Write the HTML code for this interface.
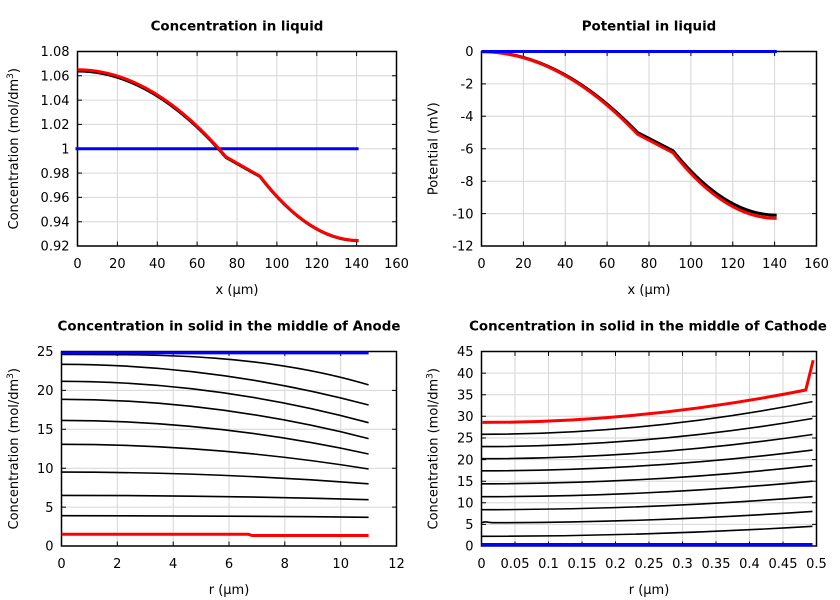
<!DOCTYPE html>
<html><head><meta charset="utf-8"><style>
html,body{margin:0;padding:0;background:#fff;}
svg{display:block;}
text{font-family:"DejaVu Sans","Liberation Sans",sans-serif;fill:#000;}
.t{font-size:13px;}
.ti{font-size:13.4px;font-weight:bold;}
</style></head><body>
<svg width="840" height="600" viewBox="0 0 840 600" xmlns="http://www.w3.org/2000/svg">
<rect width="840" height="600" fill="#fff"/>

<!-- ================= Plot 1 ================= -->
<g fill="none">
<path stroke="#d6d6d6" stroke-width="1" d="M117.4 51.5V246M157.3 51.5V246M197.1 51.5V246M237 51.5V246M276.9 51.5V246M316.8 51.5V246M356.6 51.5V246M77.5 75.8H396.5M77.5 100.1H396.5M77.5 124.4H396.5M77.5 148.75H396.5M77.5 173.1H396.5M77.5 197.4H396.5M77.5 221.7H396.5"/>
<path stroke="#000" stroke-width="1" d="M117.4 246v-4.5M157.3 246v-4.5M197.1 246v-4.5M237 246v-4.5M276.9 246v-4.5M316.8 246v-4.5M356.6 246v-4.5M117.4 51.5v4.5M157.3 51.5v4.5M197.1 51.5v4.5M237 51.5v4.5M276.9 51.5v4.5M316.8 51.5v4.5M356.6 51.5v4.5M77.5 75.8h4.5M77.5 100.1h4.5M77.5 124.4h4.5M77.5 148.75h4.5M77.5 173.1h4.5M77.5 197.4h4.5M77.5 221.7h4.5M396.5 75.8h-4.5M396.5 100.1h-4.5M396.5 124.4h-4.5M396.5 148.75h-4.5M396.5 173.1h-4.5M396.5 197.4h-4.5M396.5 221.7h-4.5"/>
<rect x="77.5" y="51.5" width="319" height="194.5" stroke="#000" stroke-width="1.5"/>
<path stroke="#0000ff" stroke-width="3" d="M75.5 148.75H358.6"/>
<path stroke="#000" stroke-width="3" d="M77.5 71 Q151.8 71 226 157.4 L259.9 176.5 Q309.3 240.7 358.6 240.7"/>
<path stroke="#ff0000" stroke-width="3" d="M77.5 69.7 Q151.8 69.7 226 156.8 L259.9 176.1 Q309.3 240.5 358.6 240.5"/>
</g>
<text class="ti" x="237" y="30.5" text-anchor="middle">Concentration in liquid</text>
<g class="t" text-anchor="end">
<text class="t" x="69.5" y="56.2">1.08</text>
<text class="t" x="69.5" y="80.5">1.06</text>
<text class="t" x="69.5" y="104.8">1.04</text>
<text class="t" x="69.5" y="129.1">1.02</text>
<text class="t" x="69.5" y="153.5">1</text>
<text class="t" x="69.5" y="177.8">0.98</text>
<text class="t" x="69.5" y="202.1">0.96</text>
<text class="t" x="69.5" y="226.4">0.94</text>
<text class="t" x="69.5" y="250.7">0.92</text>
</g>
<g text-anchor="middle">
<text class="t" x="77.5" y="268">0</text>
<text class="t" x="117.4" y="268">20</text>
<text class="t" x="157.3" y="268">40</text>
<text class="t" x="197.1" y="268">60</text>
<text class="t" x="237" y="268">80</text>
<text class="t" x="276.9" y="268">100</text>
<text class="t" x="316.8" y="268">120</text>
<text class="t" x="356.6" y="268">140</text>
<text class="t" x="396.5" y="268">160</text>
<text class="t" x="237" y="294">x (µm)</text>
</g>
<text class="t" transform="translate(18,148.75) rotate(-90)" text-anchor="middle">Concentration (mol/dm<tspan font-size="9" dy="-5">3</tspan><tspan dy="5">)</tspan></text>

<!-- ================= Plot 2 ================= -->
<g fill="none">
<path stroke="#d6d6d6" stroke-width="1" d="M523.4 51.5V246M565.25 51.5V246M607.1 51.5V246M649 51.5V246M690.9 51.5V246M732.75 51.5V246M774.6 51.5V246M481.5 83.9H816.5M481.5 116.3H816.5M481.5 148.75H816.5M481.5 181.2H816.5M481.5 213.6H816.5"/>
<path stroke="#000" stroke-width="1" d="M523.4 246v-4.5M565.25 246v-4.5M607.1 246v-4.5M649 246v-4.5M690.9 246v-4.5M732.75 246v-4.5M774.6 246v-4.5M523.4 51.5v4.5M565.25 51.5v4.5M607.1 51.5v4.5M649 51.5v4.5M690.9 51.5v4.5M732.75 51.5v4.5M774.6 51.5v4.5M481.5 83.9h4.5M481.5 116.3h4.5M481.5 148.75h4.5M481.5 181.2h4.5M481.5 213.6h4.5M816.5 83.9h-4.5M816.5 116.3h-4.5M816.5 148.75h-4.5M816.5 181.2h-4.5M816.5 213.6h-4.5"/>
<rect x="481.5" y="51.5" width="335" height="194.5" stroke="#000" stroke-width="1.5"/>
<path stroke="#000" stroke-width="3" d="M481.5 51.5 Q559.5 51.5 637.5 132.5 L673.1 150.8 Q724.9 215.2 776.7 215.2"/>
<path stroke="#ff0000" stroke-width="3" d="M481.5 51.8 Q559.5 51.8 637.5 134.2 L673.1 152.8 Q724.9 218.4 776.7 218.4"/>
<path stroke="#0000ff" stroke-width="3" d="M481.5 51.5H776.7"/>
</g>
<text class="ti" x="649" y="30.5" text-anchor="middle">Potential in liquid</text>
<g text-anchor="end">
<text class="t" x="473.5" y="56.2">0</text>
<text class="t" x="473.5" y="88.6">-2</text>
<text class="t" x="473.5" y="121">-4</text>
<text class="t" x="473.5" y="153.5">-6</text>
<text class="t" x="473.5" y="185.9">-8</text>
<text class="t" x="473.5" y="218.3">-10</text>
<text class="t" x="473.5" y="250.7">-12</text>
</g>
<g text-anchor="middle">
<text class="t" x="481.5" y="268">0</text>
<text class="t" x="523.4" y="268">20</text>
<text class="t" x="565.25" y="268">40</text>
<text class="t" x="607.1" y="268">60</text>
<text class="t" x="649" y="268">80</text>
<text class="t" x="690.9" y="268">100</text>
<text class="t" x="732.75" y="268">120</text>
<text class="t" x="774.6" y="268">140</text>
<text class="t" x="816.5" y="268">160</text>
<text class="t" x="649" y="294">x (µm)</text>
</g>
<text class="t" transform="translate(437.5,148.75) rotate(-90)" text-anchor="middle">Potential (mV)</text>

<!-- ================= Plot 3 ================= -->
<g fill="none">
<path stroke="#d6d6d6" stroke-width="1" d="M117.3 351.5V546M173.2 351.5V546M229 351.5V546M284.8 351.5V546M340.7 351.5V546M61.5 507.1H396.5M61.5 468.2H396.5M61.5 429.3H396.5M61.5 390.4H396.5"/>
<path stroke="#000" stroke-width="1" d="M117.3 546v-4.5M173.2 546v-4.5M229 546v-4.5M284.8 546v-4.5M340.7 546v-4.5M117.3 351.5v4.5M173.2 351.5v4.5M229 351.5v4.5M284.8 351.5v4.5M340.7 351.5v4.5M61.5 507.1h4.5M61.5 468.2h4.5M61.5 429.3h4.5M61.5 390.4h4.5M396.5 507.1h-4.5M396.5 468.2h-4.5M396.5 429.3h-4.5M396.5 390.4h-4.5"/>
<rect x="61.5" y="351.5" width="335" height="194.5" stroke="#000" stroke-width="1.5"/>
<g stroke="#000" stroke-width="1.6">
<path d="M61.5 354.4 C163.9 354.4 266.2 354.4 368.6 384.9"/>
<path d="M61.5 364.3 Q215 364.3 368.6 405"/>
<path d="M61.5 381.3 Q215 381.3 368.6 422.7"/>
<path d="M61.5 399.3 Q215 399.3 368.6 438.6"/>
<path d="M61.5 420.4 Q215 420.4 368.6 454"/>
<path d="M61.5 444.3 Q215 444.3 368.6 469"/>
<path d="M61.5 472.1 Q215 472.1 368.6 483.8"/>
<path d="M61.5 495.4 Q215 495.4 368.6 499.7"/>
<path d="M61.5 515.7 Q215 515.7 368.6 517.3"/>
</g>
<path stroke="#ff0000" stroke-width="3" d="M61.5 534.3 L248.5 534.3 L252 535.5 L368.6 535.5"/>
<path stroke="#0000ff" stroke-width="3" d="M61.5 352.9H368.6"/>
</g>
<text class="ti" x="229" y="330.5" text-anchor="middle">Concentration in solid in the middle of Anode</text>
<g text-anchor="end">
<text class="t" x="53.5" y="356.2">25</text>
<text class="t" x="53.5" y="395.1">20</text>
<text class="t" x="53.5" y="434">15</text>
<text class="t" x="53.5" y="472.9">10</text>
<text class="t" x="53.5" y="511.8">5</text>
<text class="t" x="53.5" y="550.7">0</text>
</g>
<g text-anchor="middle">
<text class="t" x="61.5" y="568">0</text>
<text class="t" x="117.3" y="568">2</text>
<text class="t" x="173.2" y="568">4</text>
<text class="t" x="229" y="568">6</text>
<text class="t" x="284.8" y="568">8</text>
<text class="t" x="340.7" y="568">10</text>
<text class="t" x="396.5" y="568">12</text>
<text class="t" x="229" y="594">r (µm)</text>
</g>
<text class="t" transform="translate(18,448.75) rotate(-90)" text-anchor="middle">Concentration (mol/dm<tspan font-size="9" dy="-5">3</tspan><tspan dy="5">)</tspan></text>

<!-- ================= Plot 4 ================= -->
<g fill="none">
<path stroke="#d6d6d6" stroke-width="1" d="M515 351.5V546M548.5 351.5V546M582 351.5V546M615.5 351.5V546M649 351.5V546M682.5 351.5V546M716 351.5V546M749.5 351.5V546M783 351.5V546M481.5 524.4H816.5M481.5 502.8H816.5M481.5 481.2H816.5M481.5 459.6H816.5M481.5 438H816.5M481.5 416.3H816.5M481.5 394.7H816.5M481.5 373.1H816.5"/>
<path stroke="#000" stroke-width="1" d="M515 546v-4.5M548.5 546v-4.5M582 546v-4.5M615.5 546v-4.5M649 546v-4.5M682.5 546v-4.5M716 546v-4.5M749.5 546v-4.5M783 546v-4.5M515 351.5v4.5M548.5 351.5v4.5M582 351.5v4.5M615.5 351.5v4.5M649 351.5v4.5M682.5 351.5v4.5M716 351.5v4.5M749.5 351.5v4.5M783 351.5v4.5M481.5 524.4h4.5M481.5 502.8h4.5M481.5 481.2h4.5M481.5 459.6h4.5M481.5 438h4.5M481.5 416.3h4.5M481.5 394.7h4.5M481.5 373.1h4.5M816.5 524.4h-4.5M816.5 502.8h-4.5M816.5 481.2h-4.5M816.5 459.6h-4.5M816.5 438h-4.5M816.5 416.3h-4.5M816.5 394.7h-4.5M816.5 373.1h-4.5"/>
<rect x="481.5" y="351.5" width="335" height="194.5" stroke="#000" stroke-width="1.5"/>
<g stroke="#000" stroke-width="1.6">
<path d="M481.5 434.3 Q647 434.3 812.5 401.6"/>
<path d="M481.5 446.6 Q647 446.6 812.5 418.5"/>
<path d="M481.5 458.7 Q647 458.7 812.5 434.5"/>
<path d="M481.5 470.8 Q647 470.8 812.5 450.1"/>
<path d="M481.5 483.8 Q647 483.8 812.5 465.6"/>
<path d="M481.5 496.7 Q647 496.7 812.5 481.2"/>
<path d="M481.5 509.7 Q647 509.7 812.5 496.7"/>
<path d="M481.5 522.7 L485 521.8 L492 522.7 Q647 522.7 812.5 511.4"/>
<path d="M481.5 536.3 Q647 536.3 812.5 526.3"/>
</g>
<path stroke="#ff0000" stroke-width="3" d="M482.5 422.4 Q643.6 422.4 805.8 390 L813.2 360.2"/>
<path stroke="#0000ff" stroke-width="3.5" d="M481.5 544.7H812.5"/>
</g>
<text class="ti" x="648" y="330.5" text-anchor="middle">Concentration in solid in the middle of Cathode</text>
<g text-anchor="end">
<text class="t" x="473.5" y="356.2">45</text>
<text class="t" x="473.5" y="377.8">40</text>
<text class="t" x="473.5" y="399.4">35</text>
<text class="t" x="473.5" y="421">30</text>
<text class="t" x="473.5" y="442.7">25</text>
<text class="t" x="473.5" y="464.3">20</text>
<text class="t" x="473.5" y="485.9">15</text>
<text class="t" x="473.5" y="507.5">10</text>
<text class="t" x="473.5" y="529.1">5</text>
<text class="t" x="473.5" y="550.7">0</text>
</g>
<g text-anchor="middle">
<text class="t" x="481.5" y="568">0</text>
<text class="t" x="515" y="568">0.05</text>
<text class="t" x="548.5" y="568">0.1</text>
<text class="t" x="582" y="568">0.15</text>
<text class="t" x="615.5" y="568">0.2</text>
<text class="t" x="649" y="568">0.25</text>
<text class="t" x="682.5" y="568">0.3</text>
<text class="t" x="716" y="568">0.35</text>
<text class="t" x="749.5" y="568">0.4</text>
<text class="t" x="783" y="568">0.45</text>
<text class="t" x="816.5" y="568">0.5</text>
<text class="t" x="649" y="594">r (µm)</text>
</g>
<text class="t" transform="translate(437.5,448.75) rotate(-90)" text-anchor="middle">Concentration (mol/dm<tspan font-size="9" dy="-5">3</tspan><tspan dy="5">)</tspan></text>
</svg>
</body></html>
